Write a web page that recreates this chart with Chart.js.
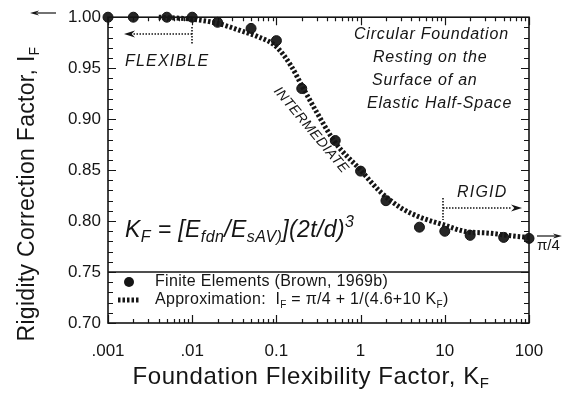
<!DOCTYPE html>
<html>
<head>
<meta charset="utf-8">
<script src="https://cdn.jsdelivr.net/npm/chart.js@4.4.1/dist/chart.umd.min.js"></script>
<style>
  html, body { margin: 0; padding: 0; background: #fff; }
  #wrap { width: 563px; height: 394px; }
</style>
</head>
<body>
<div id="wrap"><canvas id="rigidity" width="563" height="394"></canvas></div>
<script>
// Finite element results (Brown, 1969b)
const feK  = [0.001, 0.002, 0.005, 0.01, 0.02, 0.05, 0.1, 0.2, 0.5, 1, 2, 5, 10, 20, 50, 100];
const feIF = [1.000, 1.000, 1.000, 1.000, 0.995, 0.989, 0.977, 0.930, 0.879, 0.849, 0.820, 0.794, 0.790, 0.786, 0.784, 0.783];

// Approximation curve
const apK  = [0.004, 0.01, 0.02, 0.04, 0.06, 0.1, 0.15, 0.2, 0.3, 0.5, 1, 1.7, 3, 5, 10, 17, 35, 70, 100];
const apIF = [1.000, 0.998, 0.994, 0.986, 0.981, 0.971, 0.952, 0.933, 0.907, 0.877, 0.850, 0.829, 0.813, 0.804, 0.796, 0.790, 0.788, 0.785, 0.784];

const xTicks = [0.001, 0.01, 0.1, 1, 10, 100];
const xTickLabels = ['.001', '.01', '0.1', '1', '10', '100'];
const yTickLabels = ['0.70', '0.75', '0.80', '0.85', '0.90', '0.95', '1.00'];

const FONT = "'Liberation Sans', Arial, Helvetica, sans-serif";
const INK = '#151515';

// draw a run of text pieces, some of them sub- or superscript
function richText(ctx, parts, x, y, size, italic, subScale) {
    const k = subScale || 0.62;
    let cx = x;
    parts.forEach(p => {
        const s = p.sub || p.sup ? Math.round(size * k) : size;
        ctx.font = (italic ? 'italic ' : '') + s + 'px ' + FONT;
        const dy = p.sub ? size * 0.3 : (p.sup ? -size * 0.38 : 0);
        ctx.fillText(p.t, cx, y + dy);
        cx += ctx.measureText(p.t).width;
    });
    return cx - x;
}

function richWidth(ctx, parts, size, italic, subScale) {
    const k = subScale || 0.62;
    let w = 0;
    parts.forEach(p => {
        const s = p.sub || p.sup ? Math.round(size * k) : size;
        ctx.font = (italic ? 'italic ' : '') + s + 'px ' + FONT;
        w += ctx.measureText(p.t).width;
    });
    return w;
}

function dottedLine(ctx, x1, y1, x2, y2) {
    ctx.save();
    ctx.setLineDash([1.5, 1.5]);
    ctx.lineWidth = 1.6;
    ctx.beginPath();
    ctx.moveTo(x1, y1);
    ctx.lineTo(x2, y2);
    ctx.stroke();
    ctx.restore();
}

function arrowHead(ctx, x, y, dir, len, half) {
    ctx.beginPath();
    ctx.moveTo(x, y);
    ctx.lineTo(x - dir * len, y - half);
    ctx.lineTo(x - dir * len * 0.7, y);
    ctx.lineTo(x - dir * len, y + half);
    ctx.closePath();
    ctx.fill();
}

const decor = {
    id: 'decor',
    afterDraw(chart) {
        const ctx = chart.ctx;
        const { left, right, top, bottom } = chart.chartArea;
        const xs = chart.scales.x, ys = chart.scales.y;
        ctx.save();
        ctx.strokeStyle = INK;
        ctx.fillStyle = INK;

        // frame
        ctx.lineWidth = 1.6;
        ctx.strokeRect(left, top, right - left, bottom - top);

        // y ticks on both sides, pointing inward
        ctx.lineWidth = 1.2;
        for (let i = 0; i <= 30; i++) {
            const v = 0.70 + i * 0.01;
            const py = Math.round(ys.getPixelForValue(v)) + 0.5;
            const len = i % 5 === 0 ? 8 : 5;
            ctx.beginPath();
            ctx.moveTo(left, py); ctx.lineTo(left + len, py);
            ctx.moveTo(right, py); ctx.lineTo(right - len, py);
            ctx.stroke();
        }
        // log x ticks top and bottom
        for (let d = -3; d <= 2; d++) {
            for (let m = 1; m <= 9; m++) {
                if (d === 2 && m > 1) break;
                const px = Math.round(xs.getPixelForValue(m * Math.pow(10, d))) + 0.5;
                const len = m === 1 ? 8 : 4;
                ctx.beginPath();
                ctx.moveTo(px, bottom); ctx.lineTo(px, bottom - len);
                ctx.moveTo(px, top); ctx.lineTo(px, top + len);
                ctx.stroke();
            }
        }

        // legend panel divider
        const y75 = ys.getPixelForValue(0.75);
        ctx.lineWidth = 1.4;
        ctx.beginPath();
        ctx.moveTo(left, y75); ctx.lineTo(right, y75);
        ctx.stroke();

        ctx.textBaseline = 'middle';
        ctx.textAlign = 'left';
        ctx.beginPath();
        ctx.arc(129, 282, 5, 0, Math.PI * 2);
        ctx.fill();
        ctx.letterSpacing = '0.3px';
        ctx.font = '16px ' + FONT;
        ctx.fillText('Finite Elements (Brown, 1969b)', 155, 282);
        ctx.save();
        ctx.lineWidth = 5;
        ctx.setLineDash([2.5, 2]);
        ctx.beginPath();
        ctx.moveTo(118, 300); ctx.lineTo(140, 300);
        ctx.stroke();
        ctx.restore();
        richText(ctx, [
            { t: 'Approximation:  I' }, { t: 'F', sub: true },
            { t: ' = \u03c0/4 + 1/(4.6+10 K' }, { t: 'F', sub: true }, { t: ')' }
        ], 155, 300, 16, false);

        // stiffness equation
        ctx.letterSpacing = '0.4px';
        richText(ctx, [
            { t: 'K' }, { t: 'F', sub: true }, { t: ' = [E' }, { t: 'fdn', sub: true },
            { t: '/E' }, { t: 'sAV)', sub: true }, { t: '](2t/d)' }, { t: '3', sup: true }
        ], 125, 231, 23, true, 0.68);

        // description block
        ctx.letterSpacing = '0.8px';
        ctx.font = 'italic 16px ' + FONT;
        ctx.fillText('Circular Foundation', 354, 35);
        ctx.fillText('Resting on the', 373, 58);
        ctx.fillText('Surface of an', 372, 81);
        ctx.fillText('Elastic Half-Space', 367, 104);

        // regions
        ctx.letterSpacing = '1.2px';
        ctx.fillText('FLEXIBLE', 125, 62);
        ctx.fillText('RIGID', 457, 193);
        ctx.letterSpacing = '0px';
        dottedLine(ctx, 192, 27, 192, 45);
        dottedLine(ctx, 192, 34, 133, 34);
        arrowHead(ctx, 124, 34, -1, 11, 3.5);

        dottedLine(ctx, 443, 198, 443, 220);
        dottedLine(ctx, 443, 208, 512, 208);
        arrowHead(ctx, 522, 208, 1, 11, 3.5);

        ctx.save();
        ctx.translate(311, 130);
        ctx.rotate(50 * Math.PI / 180);
        ctx.textAlign = 'center';
        ctx.letterSpacing = '0.4px';
        ctx.font = 'italic 14px ' + FONT;
        ctx.fillText('INTERMEDIATE', 0, 0);
        ctx.restore();

        // limit markers outside the frame
        ctx.lineWidth = 1.2;
        ctx.beginPath();
        ctx.moveTo(37, 13); ctx.lineTo(56, 13);
        ctx.stroke();
        arrowHead(ctx, 30, 13, -1, 9, 2.5);

        ctx.beginPath();
        ctx.moveTo(537, 236); ctx.lineTo(555, 236);
        ctx.stroke();
        arrowHead(ctx, 562, 236, 1, 9, 2.5);
        ctx.font = '15px ' + FONT;
        ctx.fillText('\u03c0/4', 537, 246);

        // axis titles
        ctx.letterSpacing = '0.6px';
        const xt = [{ t: 'Foundation Flexibility Factor, K' }, { t: 'F', sub: true }];
        const xw = richWidth(ctx, xt, 24, false);
        richText(ctx, xt, 311 - xw / 2, 377, 24, false);

        ctx.letterSpacing = '0.3px';
        const yt = [{ t: 'Rigidity Correction Factor, I' }, { t: 'F', sub: true }];
        ctx.save();
        ctx.translate(28, 194);
        ctx.rotate(-Math.PI / 2);
        const yw = richWidth(ctx, yt, 23, false);
        richText(ctx, yt, -yw / 2, 0, 23, false);
        ctx.restore();

        ctx.restore();
    }
};

new Chart(document.getElementById('rigidity'), {
    type: 'line',
    data: {
        datasets: [
            {
                label: 'Approximation',
                data: apK.map((k, i) => ({ x: k, y: apIF[i] })),
                borderColor: INK,
                borderWidth: 5,
                borderDash: [2.5, 2],
                borderCapStyle: 'butt',
                cubicInterpolationMode: 'monotone',
                pointRadius: 0,
                fill: false,
                clip: false,
                order: 1
            },
            {
                label: 'Finite Elements',
                data: feK.map((k, i) => ({ x: k, y: feIF[i] })),
                showLine: false,
                pointRadius: 5,
                pointBackgroundColor: '#262626',
                pointBorderColor: '#111',
                pointBorderWidth: 1,
                clip: false,
                order: 2
            }
        ]
    },
    options: {
        responsive: false,
        animation: false,
        devicePixelRatio: 1,
        layout: { padding: { top: 13, right: 34, left: 0, bottom: 0 } },
        plugins: { legend: { display: false }, tooltip: { enabled: false } },
        scales: {
            x: {
                type: 'logarithmic',
                min: 0.001,
                max: 100,
                grid: { display: false, drawTicks: false },
                border: { display: false },
                afterBuildTicks: s => { s.ticks = xTicks.map(v => ({ value: v })); },
                afterFit: s => { s.height = 71; },
                ticks: {
                    autoSkip: false,
                    maxRotation: 0,
                    padding: 18,
                    color: INK,
                    font: { family: FONT, size: 17 },
                    callback: (v) => xTickLabels[xTicks.indexOf(v)]
                }
            },
            y: {
                min: 0.70,
                max: 1.00,
                grid: { display: false, drawTicks: false },
                border: { display: false },
                afterBuildTicks: s => { s.ticks = yTickLabels.map(t => ({ value: parseFloat(t) })); },
                afterFit: s => { s.width = 108; },
                ticks: {
                    padding: 7,
                    color: INK,
                    font: { family: FONT, size: 17 },
                    callback: (v) => yTickLabels.find(t => Math.abs(parseFloat(t) - v) < 1e-6)
                }
            }
        }
    },
    plugins: [decor]
});
</script>
</body>
</html>
